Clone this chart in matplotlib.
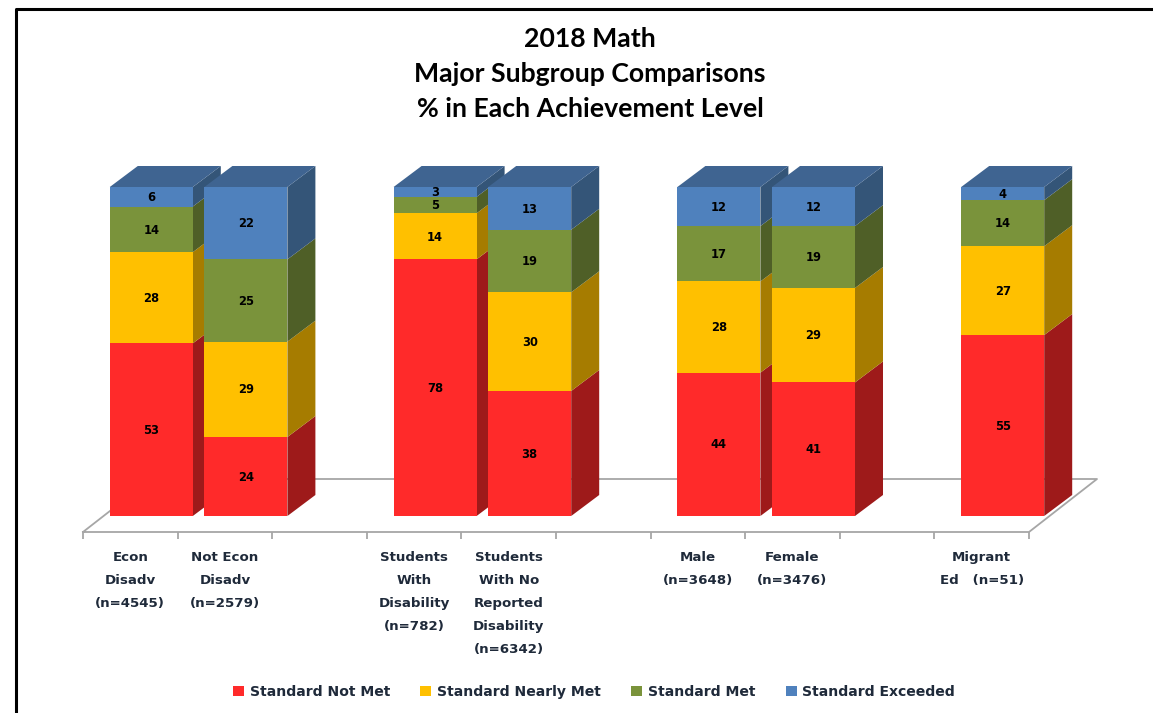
import numpy as np
import matplotlib
matplotlib.use('Agg')
import matplotlib.pyplot as plt
from matplotlib.patches import Polygon
from matplotlib.lines import Line2D

plt.rcParams['font.family'] = ['DejaVu Sans']

# data
levels = ['Standard Not Met', 'Standard Nearly Met', 'Standard Met', 'Standard Exceeded']
slots = [0, 1, 3, 4, 6, 7, 9]
labels = ['Econ\nDisadv\n(n=4545)', 'Not Econ\nDisadv\n(n=2579)', 'Students\nWith\nDisability\n(n=782)',
          'Students\nWith No\nReported\nDisability\n(n=6342)', 'Male\n(n=3648)', 'Female\n(n=3476)',
          'Migrant\nEd   (n=51)']
not_met = [53, 24, 78, 38, 44, 41, 55]
nearly_met = [28, 29, 14, 30, 28, 29, 27]
met = [14, 25, 5, 19, 17, 19, 14]
exceeded = [6, 22, 3, 13, 12, 12, 4]

front_cols = ['#FF2A2A', '#FFC000', '#7A933B', '#4F81BD']
side_cols = ['#9E1A1A', '#A67C00', '#4F5F27', '#345578']
top_col = '#3F6491'

W, H = 1153, 713
X0, SLOT = 83, 94.6      # px of the first tick, px per category
Y0, UNIT = 516, 3.29     # px of the bar base, px per percent

fig = plt.figure(figsize=(W / 100, H / 100), dpi=100)
ax = fig.add_axes([0, 0, 1, 1])
ax.set_xlim(-X0 / SLOT, (W - X0) / SLOT)
ax.set_ylim((Y0 - H) / UNIT, Y0 / UNIT)
ax.axis('off')

# depth of the fake 3d, in data units
bar_w = 83 / SLOT
bar_dx, bar_dy = 28 / SLOT, 21 / UNIT
floor_dx, floor_dy = 68 / SLOT, 53 / UNIT
shift_x, floor_y = 21 / SLOT, -16 / UNIT
n_slots = 10
grey = '#A6A6A6'

# floor
ax.plot([0, n_slots, n_slots + floor_dx, floor_dx, 0],
        [floor_y, floor_y, floor_y + floor_dy, floor_y + floor_dy, floor_y],
        color=grey, lw=1.3, zorder=1)
ax.vlines(np.arange(n_slots + 1), floor_y - 7 / UNIT, floor_y, color=grey, lw=1.3, zorder=1)

series = np.array([not_met, nearly_met, met, exceeded], dtype=float)
shares = series / series.sum(axis=0) * 100

handles = []
for i, s in enumerate(slots):
    z = 2 + i
    left = s + 0.5 + shift_x - bar_w / 2
    right = left + bar_w
    bottom = 0
    for j in range(4):
        h = shares[j, i]
        b = ax.bar(left, h, bar_w, bottom=bottom, align='edge', color=front_cols[j], zorder=z + 0.1, lw=0)
        if i == 0:
            handles.append(b[0])
        ax.add_patch(Polygon([(right, bottom), (right + bar_dx, bottom + bar_dy),
                              (right + bar_dx, bottom + h + bar_dy), (right, bottom + h)],
                             closed=True, fc=side_cols[j], ec='none', zorder=z))
        ax.text((left + right) / 2, bottom + h / 2 - 0.2, str(int(series[j, i])), ha='center', va='center',
                fontsize=8.3, fontweight='bold', color='black', zorder=z + 0.2)
        bottom += h
    ax.add_patch(Polygon([(left, bottom), (left + bar_dx, bottom + bar_dy),
                          (right + bar_dx, bottom + bar_dy), (right, bottom)],
                         closed=True, fc=top_col, ec='none', zorder=z))
    ax.text(s + 0.5, (Y0 - 551) / UNIT, labels[i], ha='center', va='top', fontsize=9.6,
            fontweight='bold', color='#1F2A3A', linespacing=2.0, zorder=20)

# title
fig.text(590 / W, 1 - 74 / H, '2018 Math\nMajor Subgroup Comparisons\n% in Each Achievement Level',
         ha='center', va='center', fontsize=19.2, fontweight='bold', color='black',
         family=['Lato', 'DejaVu Sans'], linespacing=1.56)

# legend
ax.legend(handles, levels, loc='center', bbox_to_anchor=(594 / W, 1 - 692 / H), ncol=4, frameon=False,
          handlelength=0.8, handleheight=0.8, handletextpad=0.4, columnspacing=2.15,
          prop={'size': 10.1, 'weight': 'bold'}, labelcolor='#1F2A3A')

# picture frame, only left and top show
fig.add_artist(Line2D([16 / W, 16 / W, 1], [0, 1 - 9 / H, 1 - 9 / H], color='black', lw=2.2))

fig.savefig('out.png', dpi=100)
